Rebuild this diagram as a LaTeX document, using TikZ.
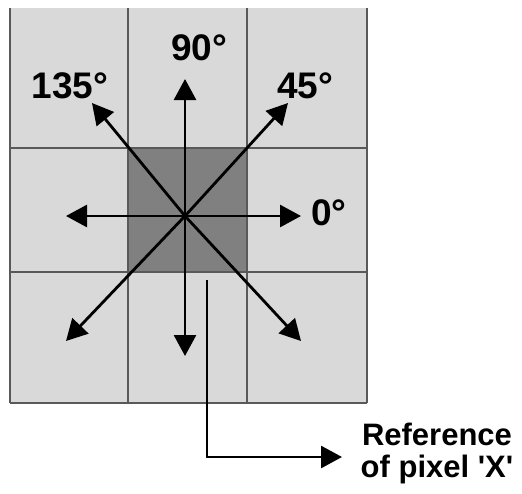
\documentclass[tikz,border=0pt]{standalone}
\usepackage{fontspec}
\newfontfamily\labelfont{Liberation Sans}
\usetikzlibrary{arrows.meta}
\begin{document}
\begin{tikzpicture}[x=1pt,y=-1pt,
  gridline/.style={draw=black!65,line width=1.8pt},
  dirarrow/.style={line width=2.8pt,-{Triangle[length=21pt,width=22pt]}},
  anglabel/.style={font=\labelfont\bfseries\fontsize{37}{38}\selectfont,inner sep=0pt,anchor=base},
  reflabel/.style={font=\labelfont\bfseries\fontsize{31}{32}\selectfont,inner sep=0pt,align=center}]
\useasboundingbox (0,0) rectangle (522,493);
% cells
\fill[black!15] (10,8) rectangle (367,403);
\fill[black!50] (128,148) rectangle (247,272);
% grid lines
\draw[gridline] (10,8) -- (10,403) (128,8) -- (128,403) (247,8) -- (247,403) (367,8) -- (367,403);
\draw[gridline] (10,148) -- (367,148) (10,272) -- (367,272) (10,403) -- (367,403);
% centre and arrow ends
\coordinate (c) at (185,216);
\coordinate (e0) at (301,216);
\coordinate (e45) at (288,103);
\coordinate (e90) at (185,79);
\coordinate (e135) at (92,103);
\coordinate (e180) at (66,216);
\coordinate (e225) at (66,341);
\coordinate (e270) at (185,356);
\coordinate (e315) at (301,341);
\foreach \e in {e0,e45,e90,e135,e180,e225,e270,e315}
  \draw[dirarrow] (c) -- (\e);
% labels
\node[anglabel] (l90) at (199,60) {90°};
\node[anglabel] (l135) at (70,98) {135°};
\node[anglabel] (l45) at (305,98) {45°};
\node[anglabel] (l0) at (329,225) {0°};
% reference
\node[reflabel,anchor=base] (ref) at (437,477) {Reference\\of pixel 'X'};
\coordinate (rs) at (207,280);
\coordinate (re) at (342,457);
\draw[dirarrow] (rs) |- (re);
\end{tikzpicture}
\end{document}
